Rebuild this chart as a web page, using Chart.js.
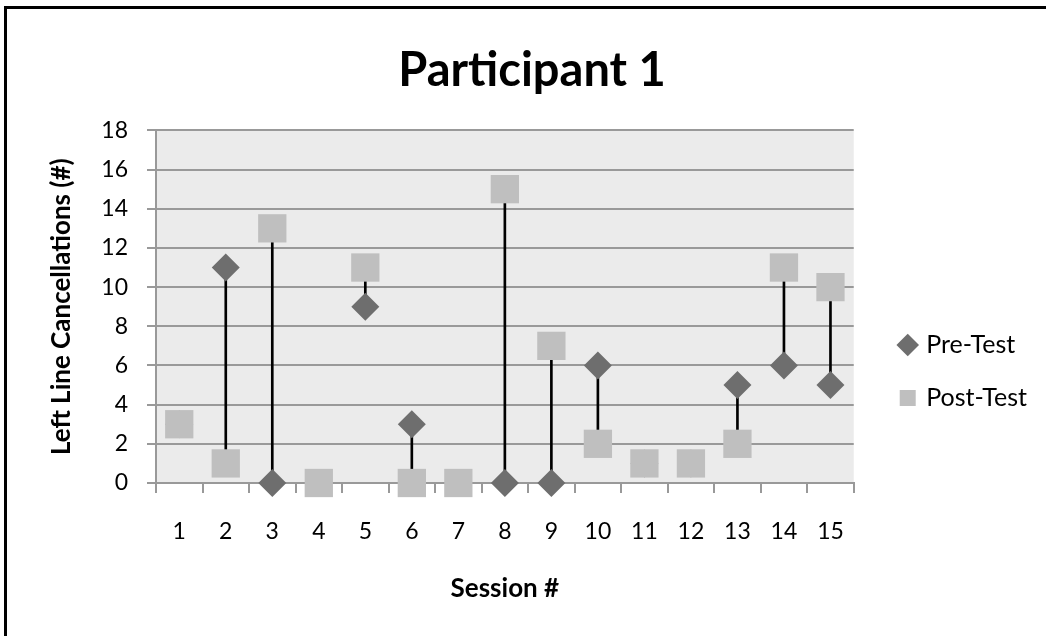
<!DOCTYPE html>
<html lang="en">
<head>
<meta charset="UTF-8">
<title>Participant 1</title>
<style>
body {
	margin: 0;
	overflow: hidden;
	background: #ffffff;
}
#frame {
	position: absolute;
	left: 4px;
	top: 6px;
	width: 1100px;
	height: 700px;
	border-left: 3px solid #000;
	border-top: 3px solid #000;
}
#chartBox {
	position: absolute;
	left: 0;
	top: 0;
	width: 1056px;
	height: 636px;
}
</style>
<script src="https://cdn.jsdelivr.net/npm/chart.js@4.4.1/dist/chart.umd.min.js"></script>
</head>
<body>
	<div id="frame"></div>
	<div id="chartBox">
		<canvas id="chart"></canvas>
	</div>

	<script type="text/javascript">
	// values
	const sessions = ['1', '2', '3', '4', '5', '6', '7', '8', '9', '10', '11', '12', '13', '14', '15'];
	const preTest = [3, 11, 0, 0, 9, 3, 0, 0, 0, 6, 1, 1, 5, 6, 5];
	const postTest = [3, 1, 13, 0, 11, 0, 0, 15, 7, 2, 1, 1, 2, 11, 10];
	const seriesNames = ['Pre-Test', 'Post-Test'];
	const yMin = 0;
	const yMax = 18;
	const yStep = 2;

	Chart.defaults.font.family = 'Lato';
	Chart.defaults.color = '#000';

	// high-low line between pre and post of each session
	const ranges = preTest.map((v, i) => [v, postTest[i]]);

	const plotBg = {
		id: 'plotBg',
		beforeDraw(chart) {
			const a = chart.chartArea;
			const ctx = chart.ctx;
			ctx.save();
			ctx.fillStyle = '#ebebeb';
			ctx.fillRect(a.left, a.top, a.right - a.left, a.bottom - a.top);
			ctx.restore();
		}
	};

	const data = {
		labels: sessions,
		datasets: [{
			type: 'line',
			label: seriesNames[1],
			data: postTest,
			showLine: false,
			pointStyle: 'rect',
			pointRadius: 20,
			pointHoverRadius: 20,
			backgroundColor: '#bfbfbf',
			borderColor: '#bfbfbf',
			borderWidth: 0,
			pointBorderWidth: 0,
			clip: false,
			order: 1
		}, {
			type: 'line',
			label: seriesNames[0],
			data: preTest,
			showLine: false,
			pointStyle: 'rectRot',
			pointRadius: 14,
			pointHoverRadius: 14,
			backgroundColor: '#6e6e6e',
			borderColor: '#6e6e6e',
			borderWidth: 0,
			pointBorderWidth: 0,
			clip: false,
			order: 2
		}, {
			type: 'bar',
			label: 'range',
			data: ranges,
			backgroundColor: '#000',
			borderWidth: 0,
			barThickness: 2,
			order: 3
		}]
	};

	const config = {
		type: 'bar',
		data,
		plugins: [plotBg],
		options: {
			responsive: true,
			maintainAspectRatio: false,
			animation: false,
			layout: { padding: { left: 8, right: 0, top: 0, bottom: 0 } },
			plugins: {
				title: {
					display: true,
					text: 'Participant 1',
					font: { size: 47, weight: 'bold' },
					padding: { top: 43, bottom: 31 }
				},
				legend: {
					position: 'right',
					align: 'center',
					reverse: true,
					maxWidth: 175,
					title: { display: true, text: '', font: { size: 10 }, padding: { top: 95, bottom: 0 } },
					labels: {
						usePointStyle: true,
						boxWidth: 12,
						boxHeight: 16,
						padding: 28,
						font: { size: 25 },
						filter: item => item.text !== 'range'
					}
				},
				tooltip: { enabled: false }
			},
			scales: {
				x: {
					offset: true,
					grid: { offset: true, drawOnChartArea: false, tickLength: 10, color: '#999', lineWidth: 2 },
					border: { color: '#999', width: 2 },
					ticks: { padding: 25, font: { size: 23 } },
					title: { display: true, text: 'Session #', font: { size: 26, weight: 'bold' }, padding: { top: 0, bottom: 32 } },
					afterFit: s => { s.height = 153; }
				},
				y: {
					min: yMin,
					max: yMax,
					ticks: { stepSize: yStep, padding: 19, font: { size: 23 } },
					grid: { color: '#999', lineWidth: 2, tickLength: 9 },
					border: { color: '#999', width: 2 },
					title: { display: true, text: 'Left Line Cancellations (#)', font: { size: 26, weight: 'bold' }, padding: { top: 38, bottom: 0 } },
					afterFit: s => { s.width = 148; }
				},
				gapRight: {
					position: 'right',
					display: true,
					grid: { display: false },
					border: { display: false },
					ticks: { display: false },
					afterFit: s => { s.width = 20; }
				},
				gapOuter: {
					position: 'right',
					weight: 2000,
					display: true,
					grid: { display: false },
					border: { display: false },
					ticks: { display: false },
					afterFit: s => { s.width = 19; }
				}
			}
		}
	};

	new Chart(document.getElementById('chart'), config);
	</script>
</body>
</html>
